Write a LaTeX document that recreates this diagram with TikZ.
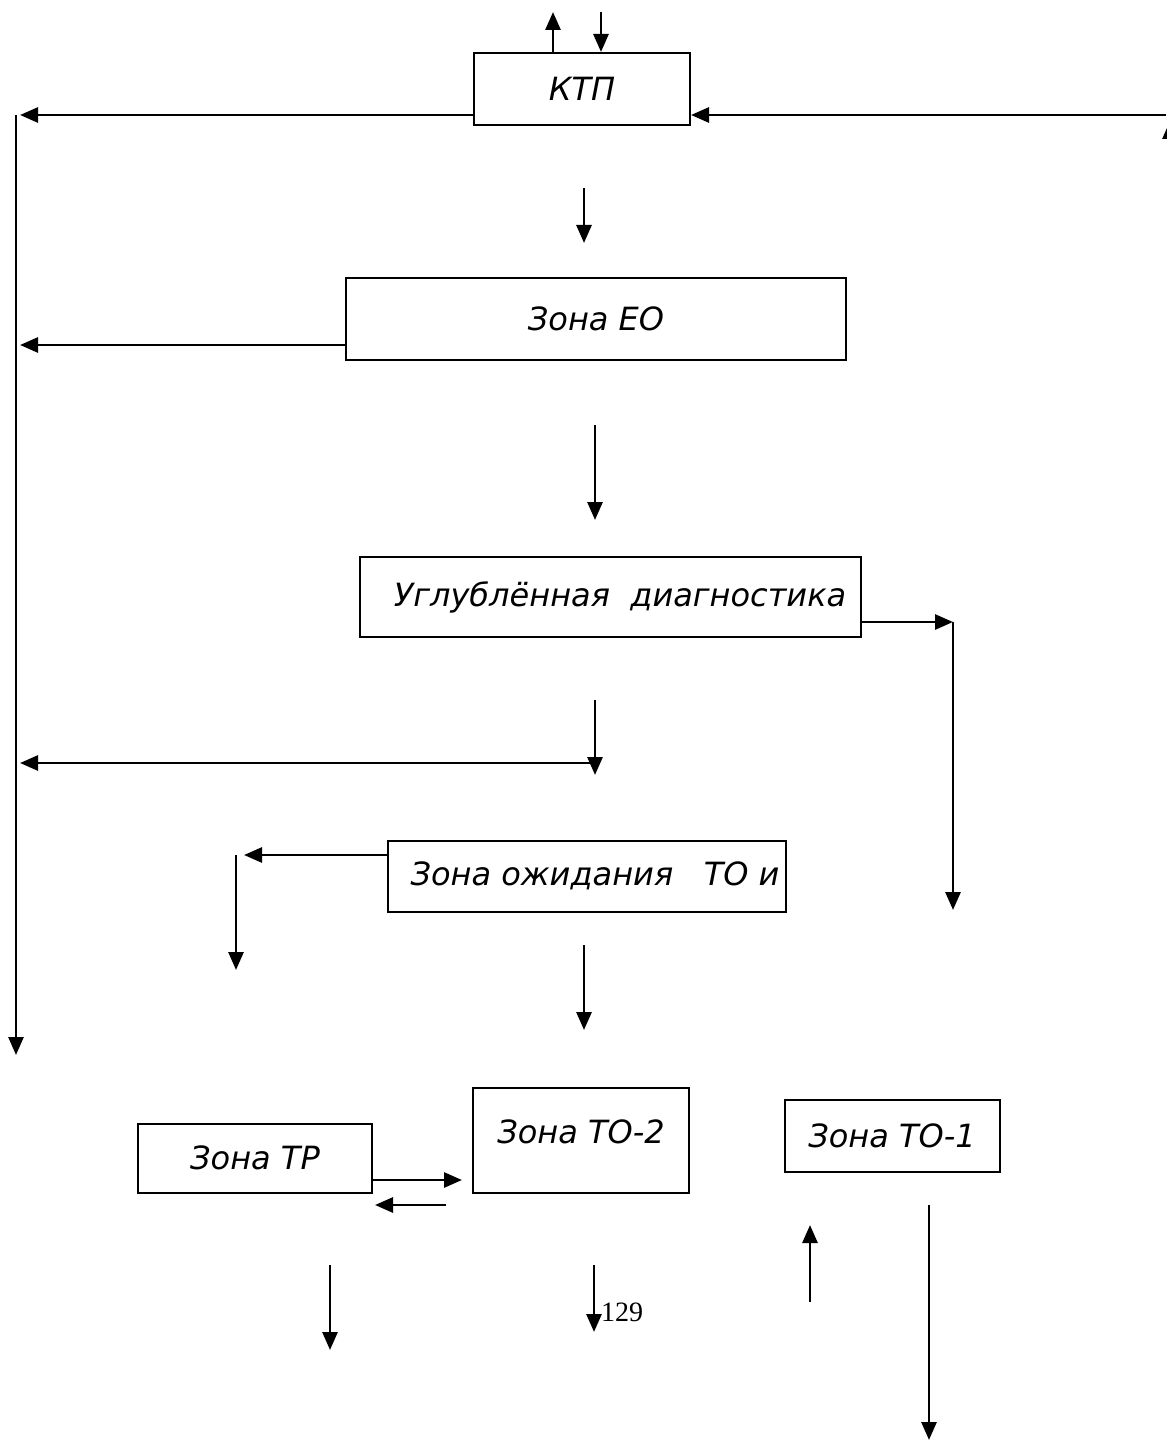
\documentclass[tikz,border=0pt]{standalone}
\usepackage{fontspec}
\setmainfont{DejaVu Sans}
\newfontfamily\pagefont{Liberation Serif}
\usetikzlibrary{arrows.meta}
\begin{document}
\begin{tikzpicture}[x=0.5pt,y=-0.5pt,
  zone/.style={draw,line width=1pt,inner sep=0pt,font=\fontsize{16}{19}\selectfont\itshape},
  arr/.style={line width=1.4pt,-{Triangle[length=9pt,width=7.5pt]}},
  bus/.style={line width=1.4pt}]
\useasboundingbox (0,0) rectangle (1166,1449);
% zones
\node[zone,minimum width=108pt,minimum height=36pt] (ktp) at (582,89) {КТП};
\node[zone,minimum width=250pt,minimum height=41pt] (eo) at (596,319) {Зона ЕО};
\node[zone,minimum width=250.5pt,minimum height=40pt] (diag) at (610,597) {\hspace{10pt}Углублённая~~диагностика};
\node[zone,minimum width=199pt,minimum height=35.5pt] (wait) at (587,876) {\hspace{8pt}Зона ожидания~~~ТО и};
\node[zone,minimum width=117pt,minimum height=34.5pt] (tr) at (255,1158) {Зона ТР};
\node[zone,minimum width=108pt,minimum height=52.5pt] (to2) at (581,1140) {\raisebox{8pt}{Зона ТО-2}};
\node[zone,minimum width=107.5pt,minimum height=36pt] (to1) at (892,1136) {Зона ТО-1};
\node[font=\pagefont\fontsize{14}{16}\selectfont] (pg) at (622,1312) {129};
% free ends
\coordinate (bustop) at (16,115);
\coordinate (busbot) at (16,1055);
\coordinate (right) at (1166,115);
\coordinate (eoL) at (16,345);
\coordinate (dR) at (953,622);
\coordinate (dRb) at (953,910);
\coordinate (midL) at (16,763);
\coordinate (midR) at (590,763);
\coordinate (wL) at (236,855);
\coordinate (wLb) at (236,970);
\coordinate (trR) at (462,1180);
\coordinate (trL) at (375,1205);
\coordinate (trLs) at (446,1205);
% left bus
\draw[arr] (bustop) -- (busbot);
\draw[arr] (ktp.west |- bustop) -- ([xshift=2pt]bustop);
\draw[arr] (right) -- (ktp.east |- right);
\draw[arr] (1170,175) -- (1170,121);
\draw[arr] ([xshift=-14.5pt]ktp.north) -- ++(0,-40);
\draw[arr] ([xshift=9.5pt]ktp.north) ++(0,-40) -- ([xshift=9.5pt]ktp.north);
\draw[arr] (eo.west |- eoL) -- ([xshift=2pt]eoL);
\draw[arr] (midR) -- ([xshift=2pt]midL);
% down arrows
\draw[arr] (584,188) -- (584,243);
\draw[arr] (595,425) -- (595,520);
\draw[arr] (595,700) -- (595,775);
\draw[arr] (584,945) -- (584,1030);
\draw[arr] (330,1265) -- (330,1350);
\draw[arr] (594,1265) -- (594,1332);
\draw[arr] (810,1302) -- (810,1225);
\draw[arr] (929,1205) -- (929,1440);
% branches
\draw[arr] (diag.east |- dR) -- (dR);
\draw[arr] (dR) -- (dRb);
\draw[arr] (wait.west |- wL) -- ([xshift=4pt]wL);
\draw[arr] (wL) -- (wLb);
\draw[arr] (tr.east |- trR) -- (trR);
\draw[arr] (trLs) -- (trL);
\end{tikzpicture}
\end{document}
